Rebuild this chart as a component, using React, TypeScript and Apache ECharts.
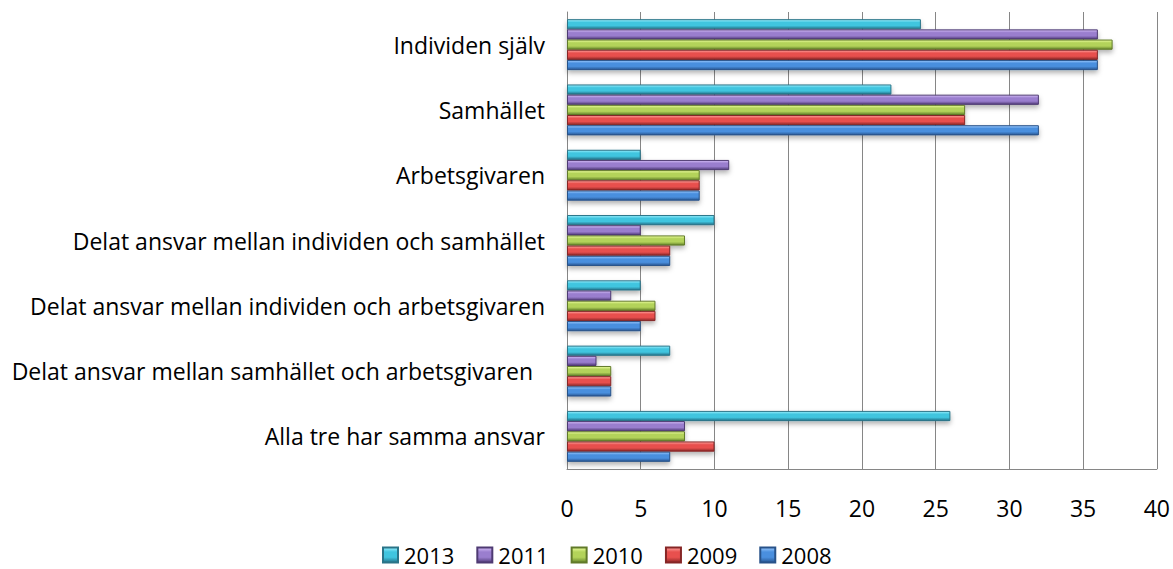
import React, { useEffect, useRef } from "react";
import * as echarts from "echarts";

const categories = [
  "Individen själv",
  "Samhället",
  "Arbetsgivaren",
  "Delat ansvar mellan individen och samhället",
  "Delat ansvar mellan individen och arbetsgivaren",
  "Delat ansvar mellan samhället och arbetsgivaren  ",
  "Alla tre har samma ansvar",
];
const years = ["2013", "2011", "2010", "2009", "2008"];
const values2013 = [24, 22, 5, 10, 5, 7, 26];
const values2011 = [36, 32, 11, 5, 3, 2, 8];
const values2010 = [37, 27, 9, 8, 6, 3, 8];
const values2009 = [36, 27, 9, 7, 6, 3, 10];
const values2008 = [36, 32, 9, 7, 5, 3, 7];
const xTicks = { min: 0, max: 40, interval: 5 };

const seriesValues = [values2013, values2011, values2010, values2009, values2008];
const palette = [
  { light: "#9af0ff", main: "#40c5df", dark: "#22728a", border: "#2a7488" },
  { light: "#d6bff8", main: "#9a7ece", dark: "#523c7a", border: "#4e3a72" },
  { light: "#eeffa0", main: "#b3d35a", dark: "#66842b", border: "#617a29" },
  { light: "#ffa4a0", main: "#e8504e", dark: "#8e2727", border: "#862626" },
  { light: "#9ccbff", main: "#4a8fde", dark: "#285692", border: "#285289" },
];

function grad(c: { light: string; main: string; dark: string }) {
  return new echarts.graphic.LinearGradient(0, 0, 0, 1, [
    { offset: 0, color: c.light },
    { offset: 0.3, color: c.main },
    { offset: 0.65, color: c.main },
    { offset: 1, color: c.dark },
  ]);
}

const FONT = "'Open Sans', 'Noto Sans', sans-serif";

export default function App() {
  const ref = useRef<HTMLDivElement>(null);
  useEffect(() => {
    if (!ref.current) return;
    const chart = echarts.init(ref.current, undefined, { renderer: "svg" });
    chart.setOption({
      animation: false,
      backgroundColor: "#ffffff",
      textStyle: { fontFamily: FONT },
      grid: { left: 567, right: 15, top: 12, bottom: 100, containLabel: false },
      legend: {
        top: 544,
        left: 382,
        padding: 0,
        data: years,
        icon: "rect",
        itemWidth: 15,
        itemHeight: 15,
        itemGap: 22,
        textStyle: {
          fontSize: 22,
          lineHeight: 20,
          color: "#000",
          fontFamily: FONT,
          padding: [0, 0, 0, 1],
        },
      },
      xAxis: {
        type: "value",
        min: xTicks.min,
        max: xTicks.max,
        interval: xTicks.interval,
        axisLine: { show: true, lineStyle: { color: "#868686", width: 1 } },
        axisTick: { show: false },
        splitLine: { show: true, lineStyle: { color: "#868686", width: 1 } },
        axisLabel: { fontSize: 23, color: "#000", margin: 27, fontFamily: FONT },
      },
      yAxis: {
        type: "category",
        inverse: true,
        data: categories,
        axisLine: { show: true, lineStyle: { color: "#868686", width: 1 } },
        axisTick: { show: false },
        axisLabel: { fontSize: 23, color: "#000", margin: 22, fontFamily: FONT },
      },
      series: years.map((y, i) => ({
        name: y,
        type: "bar",
        data: seriesValues[i],
        barGap: "0%",
        barCategoryGap: "22%",
        itemStyle: {
          color: grad(palette[i]),
          borderColor: palette[i].border,
          borderWidth: 1,
          shadowColor: "rgba(0,0,0,0.3)",
          shadowBlur: 5,
          shadowOffsetY: 3,
        },
      })),
    });
    return () => chart.dispose();
  }, []);
  return (
    <div
      ref={ref}
      style={{ position: "fixed", left: 0, top: 0, width: 1173, height: 569 }}
    />
  );
}
